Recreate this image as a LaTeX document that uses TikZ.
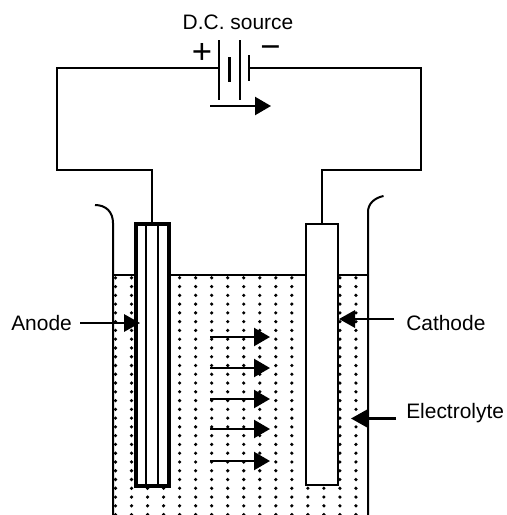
\documentclass[tikz,border=0pt]{standalone}
\usepackage{fontspec}
\setmainfont{Liberation Sans}
\usetikzlibrary{arrows.meta}
\tikzset{
  px/.style={x=0.75pt,y=-0.75pt},
  wire/.style={draw=black,line width=1.5pt},
  plate/.style={draw=black,line width=1.6pt},
  flow/.style={draw=black,line width=1.7pt,-{Triangle[length=12pt,width=13.5pt]}},
  callout/.style={draw=black,line width=1.6pt,-{Triangle[length=12pt,width=13pt]}},
  lbl/.style={font=\fontsize{15.7}{17}\selectfont,inner sep=0pt,anchor=west,text=black},
  sign/.style={font=\fontsize{26}{26}\selectfont,inner sep=0pt,text=black},
  electrode/.style={draw=black,fill=white,rectangle,minimum width=#1*0.75pt,inner sep=0pt},
}
\begin{document}
\begin{tikzpicture}[px]
\useasboundingbox (0,0) rectangle (507,515);
% electrolyte dots
\begin{scope}
\clip (0,0) rectangle (507,515);
\foreach \c in {0,...,15}{
  \foreach \r in {0,...,27}{
    \fill[black] ({115.5+16.03*\c},{277.8+8.77*\r}) circle[radius=1.8];
  }
}
\end{scope}
% vessel
\coordinate (walltopL) at (95,205);
\coordinate (wallL) at (113,223);
\coordinate (wallbotL) at (113,515);
\coordinate (walltopR) at (383.5,196);
\coordinate (wallR) at (368,212);
\coordinate (wallbotR) at (368,515);
\draw[wire] (walltopL) .. controls (106,205) and (113,212) .. (wallL) -- (wallbotL);
\draw[wire] (walltopR) .. controls (374,198) and (368,204) .. (wallR) -- (wallbotR);
% electrodes
\node[electrode=33,line width=3pt,minimum height=196.5pt,anchor=north] (anode) at (152,222) {};
\node[electrode=32,line width=1.5pt,minimum height=196pt,anchor=north] (cathode) at (322,223) {};
\draw[line width=1.6pt] ([xshift=-4.5pt]anode.north) -- ([xshift=-4.5pt]anode.south);
\draw[line width=1.6pt] ([xshift=4.5pt]anode.north) -- ([xshift=4.5pt]anode.south);
% surface
\coordinate (surfL) at (113,275);
\coordinate (surfR) at (368,275);
\draw[wire] (surfL) -- (surfL -| anode.west);
\draw[wire] (anode.east |- surfL) -- (cathode.west |- surfL);
\draw[wire] (cathode.east |- surfR) -- (surfR);
% battery
\coordinate (p1) at (219,68);
\coordinate (p4) at (249,68);
\draw[plate] (219,40) -- (219,100);
\draw[plate] (240,40) -- (240,100);
\draw[plate] (229.5,57) -- (229.5,82);
\draw[plate] (249,55) -- (249,81);
% wires
\coordinate (cornerA) at (57,68);
\coordinate (cornerA2) at (57,170);
\coordinate (cornerC) at (421,68);
\coordinate (cornerC2) at (421,170);
\draw[wire] (p1) -- (cornerA) -- (cornerA2) -- (cornerA2 -| anode.north) -- (anode.north);
\draw[wire] (p4) -- (cornerC) -- (cornerC2) -- (cornerC2 -| cathode.north) -- (cathode.north);
% labels
\node[lbl,anchor=center] (dc) at (238,22) {D.C. source};
\node[sign] (plus) at (202,53) {+};
\node[sign] (minus) at (270.5,52) {−};
\node[lbl] (anodel) at (11,323) {Anode};
\node[lbl] (cathodel) at (406,323) {Cathode};
\node[lbl] (electrolytel) at (406,413) {Electrolyte};
% arrows
\coordinate (batA) at (210,106);
\coordinate (batB) at (271,106);
\draw[flow] (batA) -- (batB);
\foreach \n/\y in {a/337,b/368,c/399,d/429,e/461}{
  \coordinate (f\n) at (210,\y);
  \coordinate (g\n) at (270,\y);
  \draw[flow] (f\n) -- (g\n);
}
\draw[callout] (80,323) -- (140,323);
\draw[callout] (394,319) -- (cathode.east |- 0,319);
\coordinate (eltip) at (351,418.5);
\draw[callout] (396,418.5) -- (eltip);
\end{tikzpicture}
\end{document}
